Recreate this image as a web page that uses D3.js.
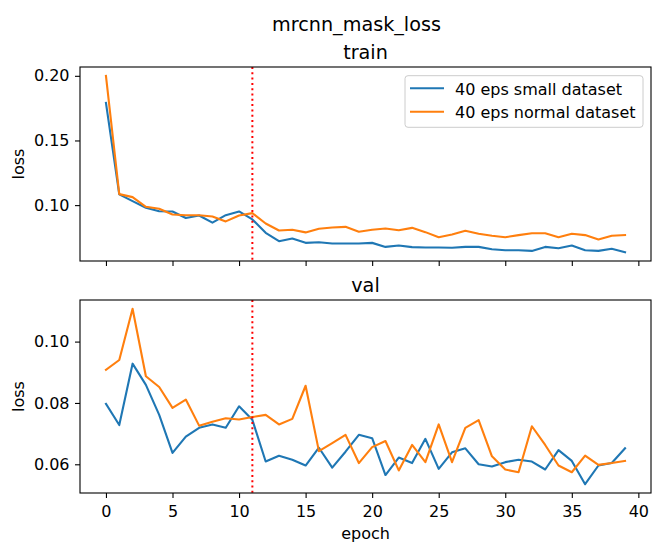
<!DOCTYPE html>
<html>
<head>
<meta charset="utf-8">
<script src="https://cdn.jsdelivr.net/npm/d3@7"></script>
<style>
  body { margin: 0; background: #fff; }
  svg text { font-family: "DejaVu Sans", sans-serif; fill: #000; }
</style>
</head>
<body>
<div id="chart"></div>
<script>
/**
 * CONSTANTS AND GLOBALS
 * */
const width = 654,
  height = 546,
  margin = { left: 80, right: 3 };

const baseFont = 16,
  titleFont = 19.2;

const epochs = d3.range(0, 40);
const seriesNames = ["40 eps small dataset", "40 eps normal dataset"];
const colors = ["#1f77b4", "#ff7f0e"];
const markerEpoch = 11;

// train loss
const trainSmall = [0.179, 0.1083, 0.1031, 0.098, 0.0953, 0.0951, 0.090, 0.092, 0.0864, 0.0922,
  0.0951, 0.0889, 0.0786, 0.0721, 0.0742, 0.0708, 0.0713, 0.0703, 0.0703, 0.0703,
  0.0708, 0.0677, 0.0688, 0.0675, 0.0672, 0.0672, 0.0670, 0.0677, 0.0677, 0.0659,
  0.0651, 0.0651, 0.0646, 0.0677, 0.0667, 0.0688, 0.0651, 0.0646, 0.0662, 0.0636];
const trainNormal = [0.200, 0.1085, 0.1062, 0.0987, 0.0972, 0.0928, 0.0922, 0.0922, 0.0912, 0.0874,
  0.092, 0.0938, 0.0858, 0.0804, 0.081, 0.0789, 0.0817, 0.0827, 0.0832, 0.0794,
  0.0809, 0.0819, 0.0806, 0.0824, 0.0791, 0.0752, 0.0773, 0.0801, 0.0778, 0.0763,
  0.0752, 0.0768, 0.0783, 0.0783, 0.0752, 0.0778, 0.0768, 0.0734, 0.0763, 0.0768];

// val loss
const valSmall = [0.0797, 0.0728, 0.0928, 0.0859, 0.0761, 0.0637, 0.0690, 0.0719, 0.0730, 0.0719,
  0.0789, 0.0745, 0.0609, 0.0628, 0.0615, 0.0596, 0.0654, 0.0589, 0.0641, 0.0696,
  0.0685, 0.0565, 0.0622, 0.0604, 0.0683, 0.0585, 0.0639, 0.0652, 0.0600, 0.0593,
  0.0607, 0.0615, 0.0609, 0.0583, 0.0646, 0.0611, 0.0535, 0.0596, 0.0604, 0.0652];
const valNormal = [0.0908, 0.0940, 0.1107, 0.0887, 0.0852, 0.0784, 0.0811, 0.0726, 0.0739, 0.0750,
  0.0746, 0.0754, 0.0761, 0.0730, 0.0748, 0.0856, 0.0643, 0.0669, 0.0696, 0.0604,
  0.0656, 0.0676, 0.0580, 0.0663, 0.0607, 0.0730, 0.0607, 0.0719, 0.0744, 0.0626,
  0.0583, 0.0574, 0.0724, 0.0663, 0.0596, 0.0574, 0.0628, 0.0598, 0.0604, 0.0611];

const xTicks = [0, 5, 10, 15, 20, 25, 30, 35, 40];
const trainTicks = [0.10, 0.15, 0.20];
const valTicks = [0.06, 0.08, 0.10];

const panels = [
  { title: "train", series: [trainSmall, trainNormal], ticks: trainTicks, top: 67, bottom: 261, xLabels: false, legend: true },
  { title: "val", series: [valSmall, valNormal], ticks: valTicks, top: 300, bottom: 493, xLabels: true, legend: false }
];

/**
 * SCALES
 * */
function padded(ext) {
  const m = (ext[1] - ext[0]) * 0.05;
  return [ext[0] - m, ext[1] + m];
}

const xScale = d3.scaleLinear()
  .domain(padded(d3.extent(epochs)))
  .range([margin.left, width - margin.right]);

const svg = d3.select("#chart")
  .append("svg")
  .attr("width", width)
  .attr("height", height);

svg.append("text")
  .attr("x", 356.5)
  .attr("y", 31)
  .attr("text-anchor", "middle")
  .attr("font-size", titleFont)
  .text("mrcnn_mask_loss");

panels.forEach(p => {
  const yScale = d3.scaleLinear()
    .domain(padded(d3.extent(p.series.flat())))
    .range([p.bottom, p.top]);

  const g = svg.append("g");

  // lines
  const line = d3.line()
    .x((d, i) => xScale(epochs[i]))
    .y(d => yScale(d));

  p.series.forEach((s, k) => {
    g.append("path")
      .datum(s)
      .attr("d", line)
      .attr("fill", "none")
      .attr("stroke", colors[k])
      .attr("stroke-width", 2.1)
      .attr("stroke-linejoin", "round")
      .attr("stroke-linecap", "square");
  });

  // red dotted marker
  g.append("line")
    .attr("x1", xScale(markerEpoch))
    .attr("x2", xScale(markerEpoch))
    .attr("y1", p.top)
    .attr("y2", p.bottom)
    .attr("stroke", "red")
    .attr("stroke-width", 2)
    .attr("stroke-dasharray", "2,3.3");

  // axes
  const yAxis = d3.axisLeft(yScale)
    .tickValues(p.ticks)
    .tickFormat(d3.format(".2f"))
    .tickSize(5)
    .tickPadding(5.5);
  const ya = g.append("g")
    .attr("transform", `translate(${margin.left},0)`)
    .call(yAxis);

  const xAxis = d3.axisBottom(xScale)
    .tickValues(xTicks)
    .tickFormat(p.xLabels ? d3.format("d") : "")
    .tickSize(5)
    .tickPadding(7.6);
  const xa = g.append("g")
    .attr("transform", `translate(0,${p.bottom})`)
    .call(xAxis);

  [ya, xa].forEach(a => {
    a.select(".domain").remove();
    a.selectAll(".tick line").attr("stroke", "#000").attr("stroke-width", 1.1);
    a.selectAll(".tick text").attr("font-size", baseFont).attr("font-family", "DejaVu Sans, sans-serif").attr("fill", "#000");
  });

  // spines
  g.append("rect")
    .attr("x", margin.left)
    .attr("y", p.top)
    .attr("width", width - margin.right - margin.left)
    .attr("height", p.bottom - p.top)
    .attr("fill", "none")
    .attr("stroke", "#000")
    .attr("stroke-width", 1.1);

  // titles
  svg.append("text")
    .attr("x", (margin.left + width - margin.right) / 2)
    .attr("y", p.top - 8.5)
    .attr("text-anchor", "middle")
    .attr("font-size", titleFont)
    .text(p.title);

  svg.append("text")
    .attr("transform", `translate(24,${(p.top + p.bottom) / 2}) rotate(-90)`)
    .attr("text-anchor", "middle")
    .attr("font-size", baseFont)
    .text("loss");

  if (p.xLabels) {
    svg.append("text")
      .attr("x", (margin.left + width - margin.right) / 2)
      .attr("y", 539)
      .attr("text-anchor", "middle")
      .attr("font-size", baseFont)
      .text("epoch");
  }

  if (p.legend) {
    const lg = svg.append("g").attr("transform", "translate(405,75.7)");
    lg.append("rect")
      .attr("width", 238)
      .attr("height", 51.6)
      .attr("rx", 3)
      .attr("fill", "#fff")
      .attr("fill-opacity", 0.8)
      .attr("stroke", "#ccc")
      .attr("stroke-width", 1);
    seriesNames.forEach((name, k) => {
      lg.append("line")
        .attr("x1", 5).attr("x2", 39)
        .attr("y1", 12.6 + k * 23.4).attr("y2", 12.6 + k * 23.4)
        .attr("stroke", colors[k])
        .attr("stroke-width", 2.1);
      lg.append("text")
        .attr("x", 50)
        .attr("y", 19.3 + k * 23.4)
        .attr("font-size", baseFont)
        .text(name);
    });
  }
});
</script>
</body>
</html>
